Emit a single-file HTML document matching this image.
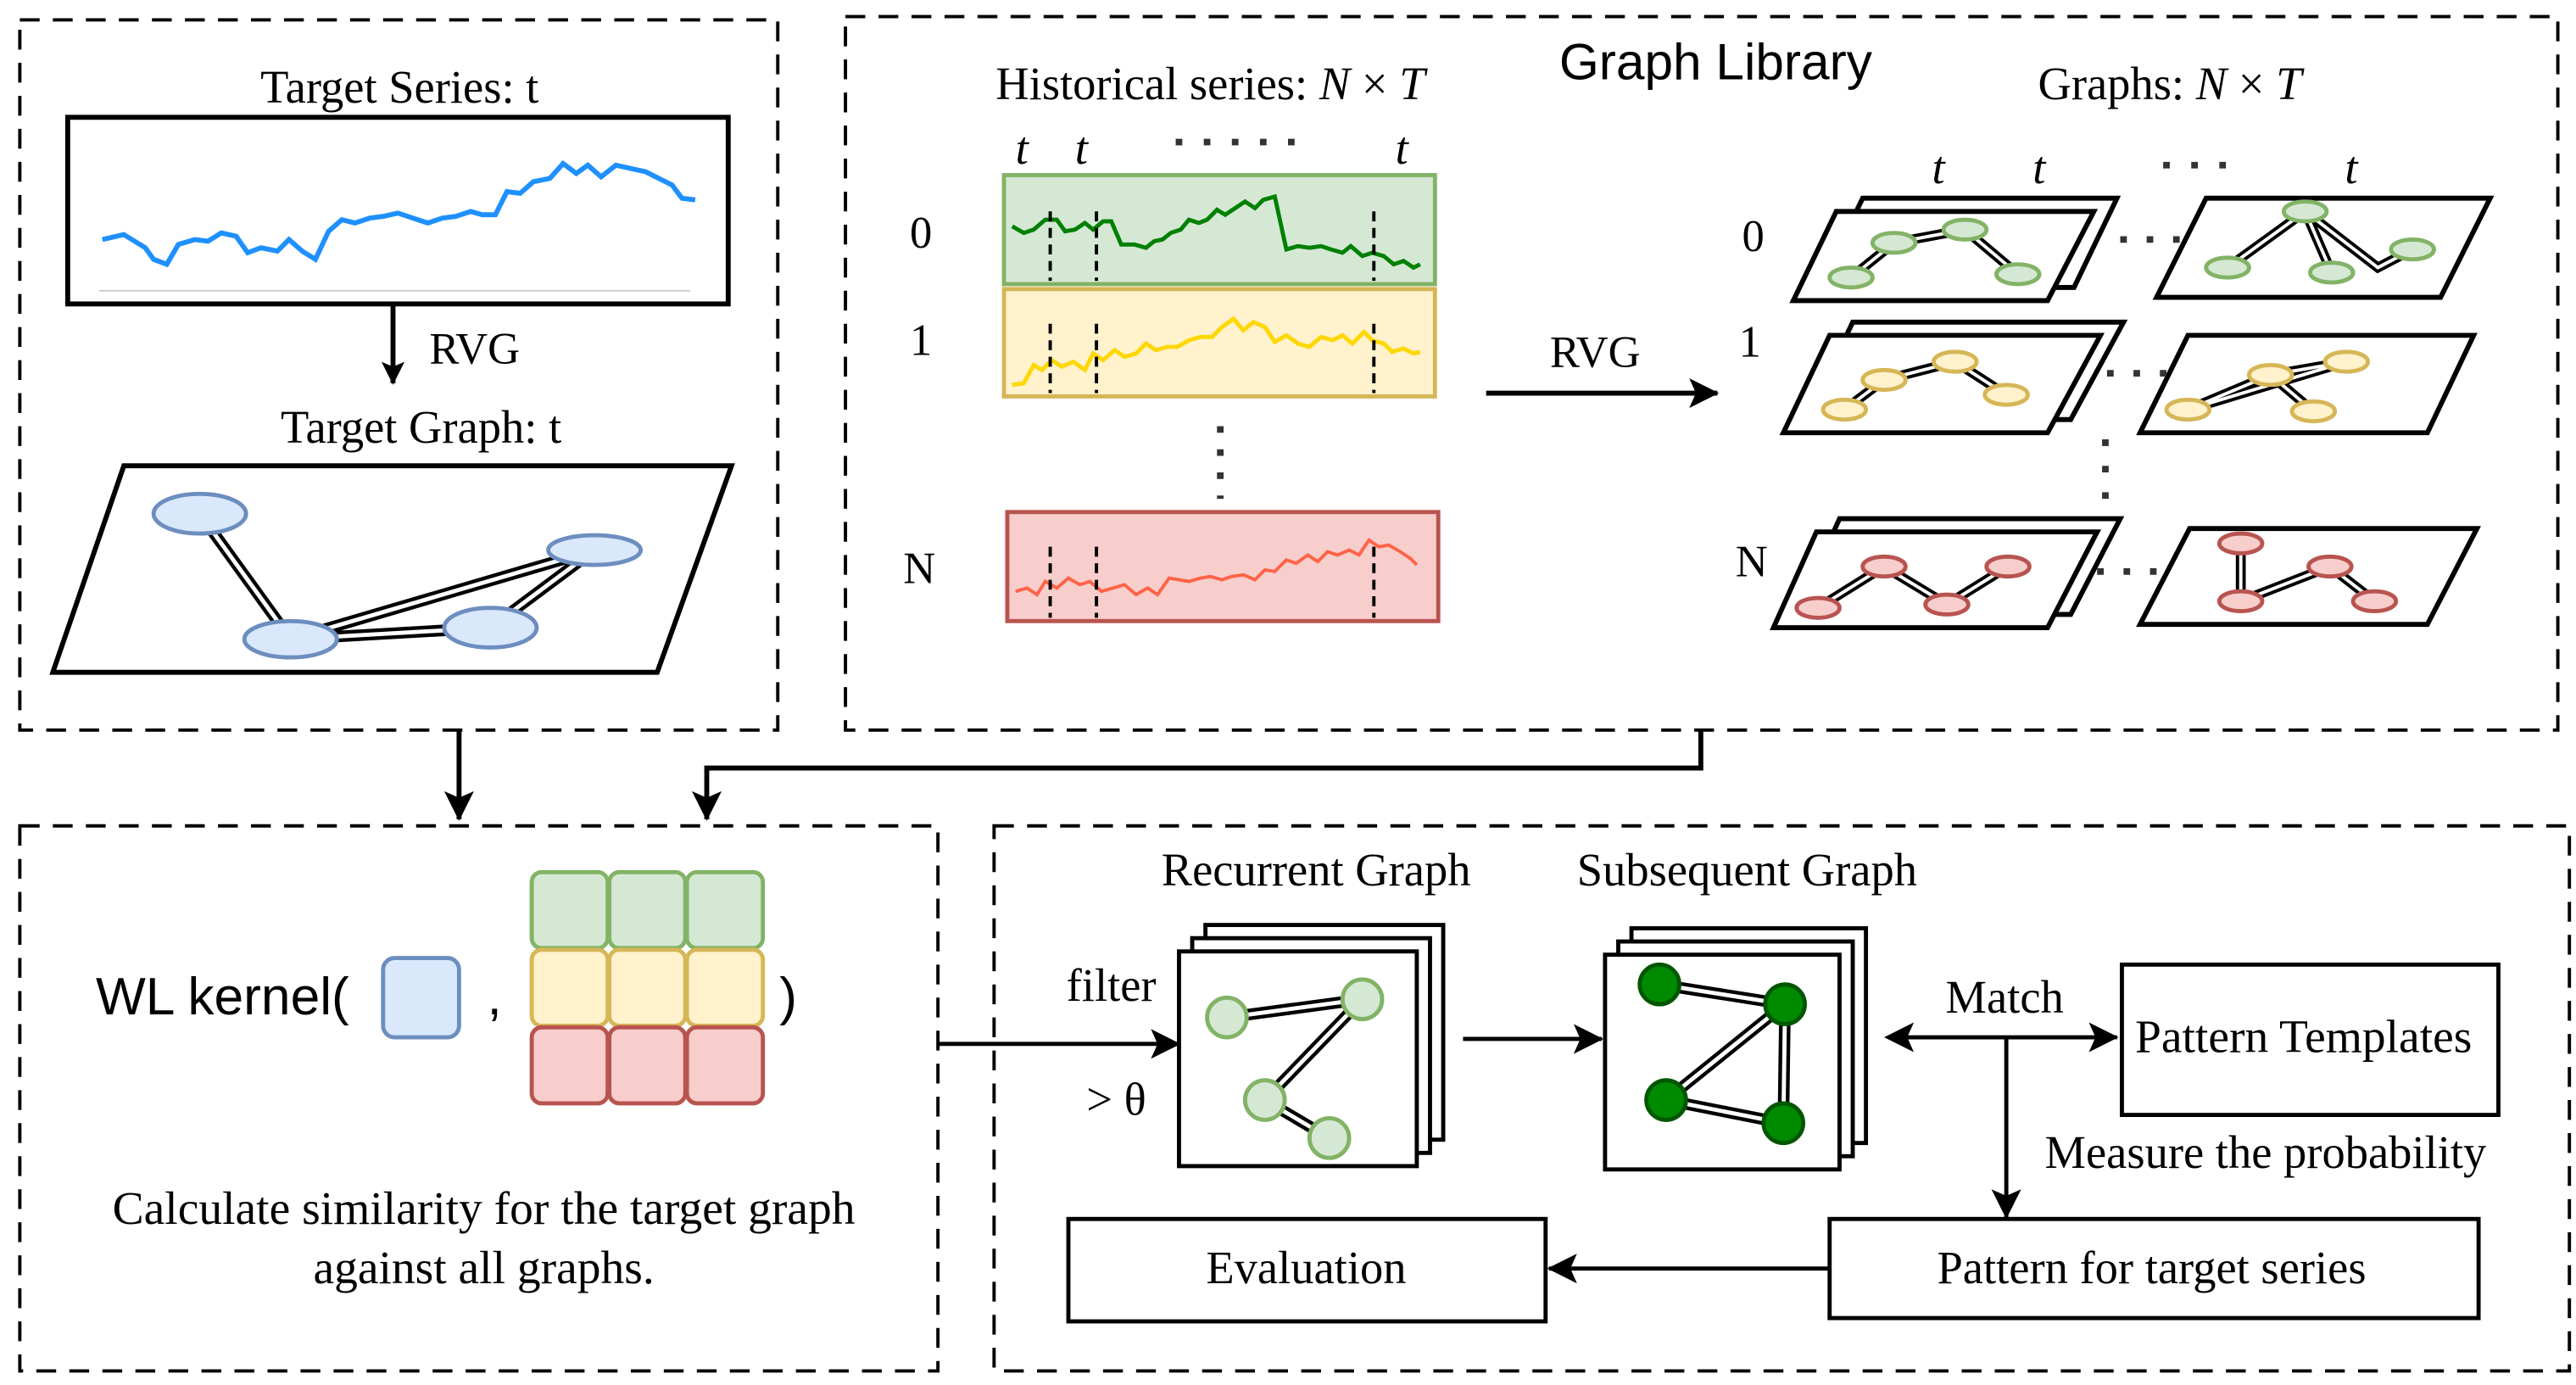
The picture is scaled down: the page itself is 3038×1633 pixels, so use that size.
<!DOCTYPE html>
<html><head><meta charset="utf-8"><style>
html,body{margin:0;padding:0;background:#fff}
svg{display:block}
text{font-family:"Liberation Serif",serif;fill:#000}
</style></head><body>
<svg width="3038" height="1633" viewBox="0 0 1560 838.5" xmlns="http://www.w3.org/2000/svg">
<defs>
<marker id="ah" markerWidth="14" markerHeight="14" refX="13" refY="7" orient="auto" markerUnits="userSpaceOnUse"><path d="M0,0 L14,7 L0,14 L3,7 Z" fill="#000"/></marker>
<marker id="ahb" markerWidth="18" markerHeight="18" refX="17" refY="9" orient="auto" markerUnits="userSpaceOnUse"><path d="M0,0 L18,9 L0,18 L4,9 Z" fill="#000"/></marker>
</defs>
<g fill="none" stroke="#000" stroke-width="2" stroke-dasharray="12,8">
<rect x="12" y="12" width="459" height="430"/>
<rect x="512" y="10" width="1037" height="432"/>
<rect x="12" y="500" width="556" height="330"/>
<rect x="602" y="500" width="954" height="330"/>
</g>

<!-- Box1 -->
<text x="242" y="62" font-size="28" text-anchor="middle">Target Series: t</text>
<rect x="41" y="71" width="400" height="113" fill="#fff" stroke="#000" stroke-width="3"/>
<line x1="60" y1="176" x2="418" y2="176" stroke="#ccc" stroke-width="1"/>
<polyline fill="none" stroke="#1e90ff" stroke-width="3" points="62,145 75,142 88,150 93,157 101,160 108,148 118,145 126,146 134,141 143,143 150,153 158,150 168,152 175,145 183,152 191,157 199,140 207,133 215,135 224,132 232,131 241,129 250,132 259,135 268,132 276,131 285,128 292,130 300,130 307,116 315,117 323,110 333,108 341,99 349,105 356,100 364,107 373,100 382,102 391,104 399,108 407,112 413,120 421,121"/>
<line x1="238" y1="184" x2="238" y2="232" stroke="#000" stroke-width="3" marker-end="url(#ah)"/>
<text x="260" y="220" font-size="27">RVG</text>
<text x="255" y="268" font-size="28" text-anchor="middle">Target Graph: t</text>
<polygon points="75,282 443,282 398,407 32,407" fill="#fff" stroke="#000" stroke-width="3"/>
<g stroke="#000" stroke-width="7" fill="none">
<line x1="121" y1="311" x2="176" y2="387"/><line x1="176" y1="387" x2="297" y2="380"/><line x1="176" y1="387" x2="360" y2="333"/><line x1="297" y1="380" x2="360" y2="333"/>
</g>
<g stroke="#fff" stroke-width="2.5" fill="none">
<line x1="121" y1="311" x2="176" y2="387"/><line x1="176" y1="387" x2="297" y2="380"/><line x1="176" y1="387" x2="360" y2="333"/><line x1="297" y1="380" x2="360" y2="333"/>
</g>
<g fill="#dae8fc" stroke="#6c8ebf" stroke-width="2.5">
<ellipse cx="121" cy="311" rx="28" ry="12"/><ellipse cx="360" cy="333" rx="28" ry="9"/><ellipse cx="176" cy="387" rx="28" ry="11"/><ellipse cx="297" cy="380" rx="28" ry="12"/>
</g>

<!-- Box2 -->
<text x="603" y="60" font-size="28">Historical series: <tspan font-style="italic">N</tspan> × <tspan font-style="italic">T</tspan></text>
<text x="1039" y="48" font-size="31" style="font-family:'Liberation Sans',sans-serif" text-anchor="middle">Graph Library</text>
<text x="1314" y="60" font-size="28" text-anchor="middle">Graphs: <tspan font-style="italic">N</tspan> × <tspan font-style="italic">T</tspan></text>
<g font-size="28" font-style="italic"><text x="615" y="99">t</text><text x="651" y="99">t</text><text x="845" y="99">t</text>
<text x="1170" y="111">t</text><text x="1231" y="111">t</text><text x="1420" y="111">t</text></g>
<line x1="712" y1="86" x2="795" y2="86" stroke="#333" stroke-width="4" stroke-dasharray="4,13"/>
<line x1="1310" y1="100" x2="1355" y2="100" stroke="#333" stroke-width="4" stroke-dasharray="4,13"/>
<g font-size="27"><text x="551" y="150">0</text><text x="551" y="215">1</text><text x="547" y="353">N</text>
<text x="1055" y="152">0</text><text x="1053" y="216">1</text><text x="1051" y="349">N</text></g>

<rect x="608" y="106" width="261" height="66" fill="#d5e8d4" stroke="#82b366" stroke-width="2.5"/>
<rect x="608" y="175" width="261" height="65" fill="#fff2cc" stroke="#d6b656" stroke-width="2.5"/>
<rect x="610" y="310" width="261" height="66" fill="#f8cecc" stroke="#b85450" stroke-width="2.5"/>
<polyline fill="none" stroke="#008000" stroke-width="2.5" points="613,137 620,141 626,139 633,133 640,133 645,140 651,139 657,135 662,139 668,134 673,134 679,148 687,148 694,150 699,146 704,145 709,141 715,139 720,133 726,135 731,133 737,127 742,130 748,126 754,122 760,126 765,121 772,119 779,151 786,149 793,150 800,149 806,151 813,153 818,149 825,155 831,153 838,155 844,160 850,158 856,162 860,160"/>
<polyline fill="none" stroke="#ffd700" stroke-width="2.5" points="613,233 620,232 626,221 631,224 637,218 643,222 650,219 657,224 662,214 668,218 675,212 681,216 688,214 694,208 700,212 707,210 713,210 720,206 727,204 734,204 740,198 747,193 753,200 759,195 766,198 772,207 779,203 786,208 793,210 800,204 807,206 813,203 819,208 826,201 831,206 838,208 843,213 850,211 856,214 860,213"/>
<polyline fill="none" stroke="#ff6347" stroke-width="2" points="615,358 622,356 628,360 633,352 640,356 647,350 654,354 660,352 667,358 674,356 681,354 688,360 695,356 701,360 708,350 714,351 720,352 727,350 733,349 740,351 746,349 753,348 760,351 766,345 772,346 779,339 785,341 792,336 798,340 804,334 810,336 817,333 823,336 829,327 835,331 841,330 848,334 854,338 858,342"/>
<g stroke="#000" stroke-width="2" stroke-dasharray="6,4">
<line x1="636" y1="128" x2="636" y2="170"/><line x1="664" y1="128" x2="664" y2="170"/><line x1="832" y1="128" x2="832" y2="170"/>
<line x1="636" y1="196" x2="636" y2="238"/><line x1="664" y1="196" x2="664" y2="238"/><line x1="832" y1="196" x2="832" y2="238"/>
<line x1="636" y1="331" x2="636" y2="374"/><line x1="664" y1="331" x2="664" y2="374"/><line x1="832" y1="331" x2="832" y2="374"/>
</g>
<line x1="739" y1="258" x2="739" y2="302" stroke="#333" stroke-width="4" stroke-dasharray="4,10"/>
<line x1="900" y1="238" x2="1040" y2="238" stroke="#000" stroke-width="3" marker-end="url(#ahb)"/>
<text x="966" y="222" font-size="27" text-anchor="middle">RVG</text>

<g fill="#fff" stroke="#000" stroke-width="3">
<polygon points="1128,120 1282,120 1256,174 1102,174"/>
<polygon points="1112,128 1268,128 1240,182 1086,182"/>
<polygon points="1336,120 1508,120 1478,180 1306,180"/>
<polygon points="1122,195 1286,195 1254,254 1094,254"/>
<polygon points="1108,203 1272,203 1240,262 1080,262"/>
<polygon points="1325,203 1498,203 1470,262 1296,262"/>
<polygon points="1114,314 1284,314 1254,372 1088,372"/>
<polygon points="1100,322 1270,322 1240,380 1074,380"/>
<polygon points="1326,320 1500,320 1470,378 1296,378"/>
</g>
<g stroke="#333" stroke-width="4" stroke-dasharray="4,12">
<line x1="1284" y1="145" x2="1332" y2="145"/><line x1="1276" y1="226" x2="1318" y2="226"/><line x1="1270" y1="346" x2="1318" y2="346"/>
<line x1="1275" y1="266" x2="1275" y2="308"/>
</g>
<g fill="none" stroke="#000" stroke-width="6">
<path d="M1121,168 L1147,147 L1190,139 L1222,166"/>
<path d="M1349,162 L1396,128 L1412,165 M1396,128 L1440,162 L1461,151"/>
<path d="M1117,248 L1141,230 L1184,219 L1215,239"/>
<path d="M1325,248 L1375,227 L1401,249 M1375,227 L1421,219 M1325,248 L1421,219"/>
<path d="M1101,368 L1141,343 L1179,366 L1216,343"/>
<path d="M1357,329 L1357,364 L1411,343 L1438,364"/>
</g>
<g fill="none" stroke="#fff" stroke-width="2">
<path d="M1121,168 L1147,147 L1190,139 L1222,166"/>
<path d="M1349,162 L1396,128 L1412,165 M1396,128 L1440,162 L1461,151"/>
<path d="M1117,248 L1141,230 L1184,219 L1215,239"/>
<path d="M1325,248 L1375,227 L1401,249 M1375,227 L1421,219 M1325,248 L1421,219"/>
<path d="M1101,368 L1141,343 L1179,366 L1216,343"/>
<path d="M1357,329 L1357,364 L1411,343 L1438,364"/>
</g>
<g fill="#d5e8d4" stroke="#82b366" stroke-width="2.5">
<ellipse cx="1121" cy="168" rx="13" ry="6"/><ellipse cx="1147" cy="147" rx="13" ry="6"/><ellipse cx="1190" cy="139" rx="13" ry="6"/><ellipse cx="1222" cy="166" rx="13" ry="6"/>
<ellipse cx="1349" cy="162" rx="13" ry="6"/><ellipse cx="1396" cy="128" rx="13" ry="6"/><ellipse cx="1412" cy="165" rx="13" ry="6"/><ellipse cx="1461" cy="151" rx="13" ry="6"/>
</g>
<g fill="#fff2cc" stroke="#d6b656" stroke-width="2.5">
<ellipse cx="1117" cy="248" rx="13" ry="6"/><ellipse cx="1141" cy="230" rx="13" ry="6"/><ellipse cx="1184" cy="219" rx="13" ry="6"/><ellipse cx="1215" cy="239" rx="13" ry="6"/>
<ellipse cx="1325" cy="248" rx="13" ry="6"/><ellipse cx="1375" cy="227" rx="13" ry="6"/><ellipse cx="1401" cy="249" rx="13" ry="6"/><ellipse cx="1421" cy="219" rx="13" ry="6"/>
</g>
<g fill="#f8cecc" stroke="#b85450" stroke-width="2.5">
<ellipse cx="1101" cy="368" rx="13" ry="6"/><ellipse cx="1141" cy="343" rx="13" ry="6"/><ellipse cx="1179" cy="366" rx="13" ry="6"/><ellipse cx="1216" cy="343" rx="13" ry="6"/>
<ellipse cx="1357" cy="329" rx="13" ry="6"/><ellipse cx="1357" cy="364" rx="13" ry="6"/><ellipse cx="1411" cy="343" rx="13" ry="6"/><ellipse cx="1438" cy="364" rx="13" ry="6"/>
</g>

<line x1="278" y1="442" x2="278" y2="496" stroke="#000" stroke-width="3" marker-end="url(#ahb)"/>
<polyline points="1030,442 1030,465 428,465 428,496" fill="none" stroke="#000" stroke-width="3" marker-end="url(#ahb)"/>

<!-- Box3 -->
<text x="58" y="614" font-size="32" style="font-family:'Liberation Sans',sans-serif">WL kernel(</text>
<rect x="232" y="580" width="46" height="48" rx="7" fill="#dae8fc" stroke="#6c8ebf" stroke-width="2.5"/>
<text x="295" y="614" font-size="32" style="font-family:'Liberation Sans',sans-serif">,</text>
<g stroke-width="2.5">
<g fill="#d5e8d4" stroke="#82b366"><rect x="322" y="528" width="46" height="46" rx="6"/><rect x="369" y="528" width="46" height="46" rx="6"/><rect x="416" y="528" width="46" height="46" rx="6"/></g>
<g fill="#fff2cc" stroke="#d6b656"><rect x="322" y="575" width="46" height="46" rx="6"/><rect x="369" y="575" width="46" height="46" rx="6"/><rect x="416" y="575" width="46" height="46" rx="6"/></g>
<g fill="#f8cecc" stroke="#b85450"><rect x="322" y="622" width="46" height="46" rx="6"/><rect x="369" y="622" width="46" height="46" rx="6"/><rect x="416" y="622" width="46" height="46" rx="6"/></g>
</g>
<text x="472" y="614" font-size="32" style="font-family:'Liberation Sans',sans-serif">)</text>
<text x="293" y="741" font-size="28.5" text-anchor="middle">Calculate similarity for the target graph</text>
<text x="293" y="777" font-size="28.5" text-anchor="middle">against all graphs.</text>

<!-- Box4 -->
<line x1="568" y1="632" x2="714" y2="632" stroke="#000" stroke-width="2.5" marker-end="url(#ahb)"/>
<text x="673" y="606" font-size="28" text-anchor="middle">filter</text>
<text x="676" y="675" font-size="28" text-anchor="middle">&gt; θ</text>
<text x="797" y="536" font-size="28" text-anchor="middle">Recurrent Graph</text>
<text x="1058" y="536" font-size="28" text-anchor="middle">Subsequent Graph</text>
<g fill="#fff" stroke="#000" stroke-width="2.5">
<rect x="730" y="560" width="144" height="130"/><rect x="722" y="568" width="144" height="130"/><rect x="714" y="576" width="144" height="130"/>
<rect x="988" y="562" width="142" height="130"/><rect x="980" y="570" width="142" height="130"/><rect x="972" y="578" width="142" height="130"/>
</g>
<g fill="none" stroke="#000" stroke-width="7">
<path d="M743,616 L825,605 L766,666 L805,689"/>
<path d="M1005,596 L1081,608 L1080,680 L1009,666 L1081,608"/>
</g>
<g fill="none" stroke="#fff" stroke-width="2.5">
<path d="M743,616 L825,605 L766,666 L805,689"/>
<path d="M1005,596 L1081,608 L1080,680 L1009,666 L1081,608"/>
</g>
<g fill="#d5e8d4" stroke="#82b366" stroke-width="2.5">
<circle cx="743" cy="616" r="12"/><circle cx="825" cy="605" r="12"/><circle cx="766" cy="666" r="12"/><circle cx="805" cy="689" r="12"/>
</g>
<g fill="#008a00" stroke="#005700" stroke-width="2.5">
<circle cx="1005" cy="596" r="12"/><circle cx="1081" cy="608" r="12"/><circle cx="1009" cy="666" r="12"/><circle cx="1080" cy="680" r="12"/>
</g>
<line x1="886" y1="629" x2="970" y2="629" stroke="#000" stroke-width="2.5" marker-end="url(#ahb)"/>
<line x1="1150" y1="628" x2="1282" y2="628" stroke="#000" stroke-width="2.5" marker-end="url(#ahb)"/>
<path d="M1141,628 L1159,619 L1155,628 L1159,637 Z" fill="#000"/>
<text x="1214" y="613" font-size="28" text-anchor="middle">Match</text>
<rect x="1285" y="584" width="228" height="91" fill="#fff" stroke="#000" stroke-width="2.5"/>
<text x="1395" y="637" font-size="28.5" text-anchor="middle">Pattern Templates</text>
<line x1="1215" y1="628" x2="1215" y2="737" stroke="#000" stroke-width="2.5" marker-end="url(#ahb)"/>
<text x="1372" y="707" font-size="28" text-anchor="middle">Measure the probability</text>
<rect x="1108" y="738" width="393" height="60" fill="#fff" stroke="#000" stroke-width="2.5"/>
<text x="1303" y="777" font-size="28" text-anchor="middle">Pattern for target series</text>
<rect x="647" y="738" width="289" height="62" fill="#fff" stroke="#000" stroke-width="2.5"/>
<text x="791" y="777" font-size="28" text-anchor="middle">Evaluation</text>
<line x1="1108" y1="768" x2="938" y2="768" stroke="#000" stroke-width="2.5" marker-end="url(#ahb)"/>
</svg>
</body></html>
